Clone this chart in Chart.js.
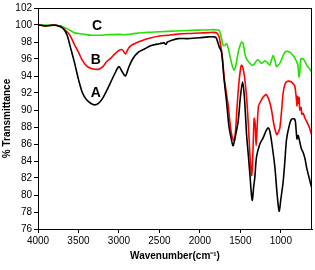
<!DOCTYPE html>
<html>
<head>
<meta charset="utf-8">
<script src="https://cdn.jsdelivr.net/npm/chart.js@4/dist/chart.umd.min.js"></script>
<style>
  body { margin: 0; background: #fff; }
</style>
</head>
<body>
<canvas id="ftir" width="315" height="270"></canvas>
<script>
// Spectrum data (wavenumber cm-1, % transmittance)
const wnA = [4000, 3900, 3800, 3720, 3680, 3640, 3600, 3550, 3500, 3450, 3400, 3350, 3300, 3250, 3200, 3150, 3100, 3050, 3000, 2960, 2920, 2880, 2830, 2760, 2680, 2600, 2500, 2440, 2420, 2400, 2350, 2270, 2150, 2000, 1900, 1820, 1800, 1780, 1760, 1733, 1700, 1671, 1640, 1610, 1589, 1560, 1527, 1500, 1473, 1450, 1423, 1400, 1383, 1354, 1335, 1321, 1300, 1259, 1220, 1180, 1156, 1136, 1110, 1074, 1045, 1021, 1000, 972, 950, 930, 900, 868, 827, 810, 800, 786, 765, 745, 724, 700, 683, 650, 620];
const tA = [100.0, 99.9, 100.0, 99.8, 99.5, 98.8, 97.4, 95.6, 93.6, 92.0, 91.2, 90.8, 90.6, 90.8, 91.4, 92.3, 93.3, 94.3, 95.1, 94.5, 94.0, 95.0, 96.0, 96.8, 97.2, 97.6, 97.8, 97.9, 97.7, 98.0, 98.2, 98.4, 98.4, 98.5, 98.6, 98.6, 98.5, 98.0, 97.4, 96.8, 93.5, 91.0, 88.0, 86.5, 85.8, 87.0, 88.7, 91.5, 93.3, 91.5, 87.1, 84.5, 82.5, 79.4, 81.0, 82.1, 84.5, 86.0, 86.7, 87.6, 87.9, 87.5, 86.0, 83.3, 80.0, 78.1, 79.5, 81.5, 84.0, 86.5, 88.0, 88.9, 88.9, 87.5, 86.6, 87.0, 86.2, 85.4, 85.0, 84.2, 83.3, 82.0, 80.9];

const wnB = [4000, 3900, 3800, 3720, 3680, 3640, 3600, 3550, 3500, 3450, 3400, 3350, 3300, 3250, 3200, 3150, 3100, 3050, 3000, 2960, 2920, 2880, 2830, 2760, 2680, 2600, 2500, 2400, 2300, 2150, 2000, 1900, 1800, 1770, 1750, 1720, 1700, 1670, 1650, 1620, 1600, 1576, 1560, 1540, 1515, 1495, 1485, 1470, 1450, 1423, 1400, 1380, 1360, 1345, 1330, 1318, 1305, 1290, 1275, 1250, 1220, 1190, 1170, 1140, 1115, 1090, 1074, 1050, 1030, 1012, 990, 972, 950, 930, 900, 870, 848, 827, 810, 800, 795, 786, 775, 765, 750, 740, 724, 700, 683, 650, 620];
const tB = [100.0, 99.9, 100.0, 99.8, 99.5, 99.2, 98.7, 97.7, 96.8, 95.8, 95.2, 94.9, 94.8, 94.8, 95.1, 95.7, 96.1, 96.6, 97.0, 97.1, 96.6, 97.3, 97.7, 98.0, 98.3, 98.5, 98.7, 98.8, 98.9, 99.0, 99.05, 99.1, 99.1, 98.8, 98.0, 96.0, 93.8, 91.8, 90.5, 87.8, 86.8, 86.4, 87.5, 90.5, 93.5, 95.0, 95.3, 95.0, 94.0, 91.5, 88.0, 84.5, 82.3, 85.0, 89.0, 88.5, 85.8, 88.5, 90.5, 91.0, 91.5, 91.8, 91.7, 91.0, 90.0, 88.5, 87.8, 87.1, 87.4, 87.9, 90.0, 92.0, 93.0, 93.3, 93.4, 93.3, 93.1, 92.8, 91.5, 90.5, 91.6, 90.8, 91.5, 90.0, 90.3, 89.5, 89.6, 89.0, 88.7, 88.0, 87.1];

const wnC = [4000, 3900, 3800, 3720, 3650, 3600, 3550, 3500, 3424, 3350, 3259, 3150, 3000, 2930, 2850, 2750, 2642, 2500, 2300, 2025, 1850, 1770, 1753, 1730, 1712, 1690, 1671, 1650, 1630, 1600, 1576, 1550, 1527, 1500, 1485, 1465, 1444, 1423, 1400, 1362, 1340, 1321, 1300, 1280, 1260, 1238, 1210, 1198, 1170, 1136, 1115, 1095, 1075, 1053, 1030, 1012, 980, 951, 920, 889, 848, 820, 806, 790, 780, 774, 765, 753, 724, 700, 683, 650, 620];
const tC = [100.0, 100.0, 99.95, 99.9, 99.6, 99.35, 99.1, 99.0, 98.9, 98.8, 98.8, 98.85, 98.9, 98.85, 98.95, 99.05, 99.15, 99.2, 99.3, 99.4, 99.45, 99.4, 99.2, 98.3, 97.6, 97.6, 97.8, 97.3, 96.4, 95.2, 94.7, 95.5, 96.8, 97.7, 98.0, 97.8, 96.6, 96.0, 95.7, 95.3, 95.3, 95.5, 95.8, 95.9, 95.7, 95.5, 95.7, 95.8, 95.6, 95.3, 95.9, 96.4, 95.9, 95.1, 95.3, 95.5, 96.2, 96.8, 96.9, 96.8, 96.4, 96.0, 95.7, 95.3, 94.2, 93.9, 94.5, 96.0, 96.0, 95.7, 95.3, 94.9, 94.5];

// Curve labels and where they sit
const curveNames = ['A', 'B', 'C'];
const nameWn = [3285, 3285, 3270];
const nameT = [92.0, 95.9, 99.85];

const xTicks = [4000, 3500, 3000, 2500, 2000, 1500, 1000];
const xMin = 615, xMax = 4000;
const yMin = 76, yMax = 102, yStep = 2;

const pts = (xs, ys) => xs.map((v, i) => ({ x: v, y: ys[i] }));

// box round the plot + A/B/C labels
const framePlugin = {
  id: 'frame',
  afterDatasetsDraw(chart) {
    const { ctx, chartArea: a, scales: { x, y } } = chart;
    ctx.save();
    ctx.strokeStyle = '#000';
    ctx.lineWidth = 1;
    ctx.strokeRect(a.left + 0.5, a.top + 0.5, a.right - a.left - 1, a.bottom - a.top);
    ctx.fillStyle = '#000';
    ctx.font = 'bold 14px Arial, "Liberation Sans", sans-serif';
    ctx.textAlign = 'center';
    ctx.textBaseline = 'middle';
    curveNames.forEach((n, i) => {
      ctx.fillText(n, x.getPixelForValue(nameWn[i]), y.getPixelForValue(nameT[i]));
    });
    ctx.restore();
  }
};

const tickFont = { family: 'Arial, "Liberation Sans", sans-serif', size: 10 };
const titleFont = { family: 'Arial, "Liberation Sans", sans-serif', size: 10, weight: 'bold' };

new Chart(document.getElementById('ftir'), {
  type: 'line',
  data: {
    datasets: [
      { label: 'A', data: pts(wnA, tA), borderColor: '#000000', borderWidth: 1.6, pointRadius: 0, tension: 0.3 },
      { label: 'B', data: pts(wnB, tB), borderColor: '#ff0000', borderWidth: 1.6, pointRadius: 0, tension: 0.3 },
      { label: 'C', data: pts(wnC, tC), borderColor: '#22e000', borderWidth: 1.6, pointRadius: 0, tension: 0.3 }
    ]
  },
  options: {
    responsive: false,
    animation: false,
    devicePixelRatio: 1,
    layout: { padding: { top: 5, right: 3, left: 0, bottom: 0 } },
    plugins: { legend: { display: false }, tooltip: { enabled: false } },
    scales: {
      x: {
        type: 'linear',
        reverse: true,
        min: xMin,
        max: xMax,
        afterBuildTicks: (s) => { s.ticks = xTicks.map(v => ({ value: v })); },
        afterFit: (s) => { s.height = 41; },
        grid: { drawOnChartArea: false, drawTicks: true, tickLength: 4, color: '#000' },
        border: { color: '#000', width: 1 },
        ticks: { color: '#000', font: tickFont, padding: 2, maxRotation: 0, autoSkip: false, callback: (v) => String(v) },
        title: { display: true, text: 'Wavenumber(cm⁻¹)', color: '#000', font: titleFont, padding: { top: 0, bottom: 8 } }
      },
      y: {
        min: yMin,
        max: yMax,
        afterFit: (s) => { s.width = 38; },
        grid: { drawOnChartArea: false, drawTicks: true, tickLength: 4, color: '#000' },
        border: { color: '#000', width: 1 },
        ticks: { color: '#000', font: tickFont, stepSize: yStep, padding: 2, callback: (v) => String(v) },
        title: { display: true, text: '% Transmittance', color: '#000', font: titleFont, padding: { top: 1, bottom: 0 } }
      }
    }
  },
  plugins: [framePlugin]
});
</script>
</body>
</html>
